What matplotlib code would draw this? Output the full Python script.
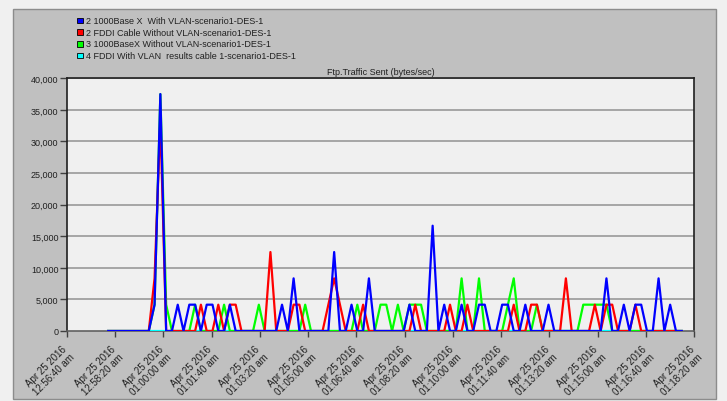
import numpy as np
import matplotlib
matplotlib.use('Agg')
import matplotlib.pyplot as plt
from matplotlib.patches import Rectangle
from matplotlib.transforms import ScaledTranslation

plt.rcParams['font.family'] = ['Liberation Sans', 'DejaVu Sans']

# samples every 12 s, first one 86 s after 12:56:40 am
first_sample = 86
sample_step = 12
n_samples = 100

blue_1000x_vlan = [
    0, 0, 0, 0, 0, 0, 0, 0, 4167, 37500,
    0, 0, 4167, 0, 4167, 4167, 0, 4167, 4167, 0,
    0, 4167, 0, 0, 0, 0, 0, 0, 0, 0,
    4167, 0, 8333, 0, 0, 0, 0, 0, 0, 12500,
    0, 0, 4167, 0, 0, 8333, 0, 0, 0, 0,
    0, 0, 4167, 0, 0, 0, 16667, 0, 4167, 0,
    0, 4167, 0, 0, 4167, 4167, 0, 0, 4167, 4167,
    0, 0, 4167, 0, 0, 0, 4167, 0, 0, 0,
    0, 0, 0, 0, 0, 0, 8333, 0, 0, 4167,
    0, 4167, 4167, 0, 0, 8333, 0, 4167, 0, 0]

red_fddi_novlan = [
    0, 0, 0, 0, 0, 0, 0, 0, 8333, 33333,
    0, 0, 0, 0, 0, 0, 4167, 0, 0, 4167,
    0, 4167, 4167, 0, 0, 0, 0, 0, 12500, 0,
    0, 0, 4167, 4167, 0, 0, 0, 0, 4167, 8333,
    4167, 0, 0, 0, 4167, 0, 0, 0, 0, 0,
    0, 0, 0, 4167, 0, 0, 0, 0, 0, 4167,
    0, 0, 4167, 0, 0, 0, 0, 0, 0, 0,
    4167, 0, 0, 4167, 4167, 0, 0, 0, 0, 8333,
    0, 0, 0, 0, 4167, 0, 4167, 4167, 0, 0,
    0, 4167, 0, 0, 0, 0, 0, 0, 0, 0]

green_1000x_novlan = [
    0, 0, 0, 0, 0, 0, 0, 0, 4167, 37500,
    4167, 0, 0, 0, 0, 4167, 0, 0, 0, 0,
    4167, 0, 0, 0, 0, 0, 4167, 0, 0, 0,
    0, 0, 0, 0, 4167, 0, 0, 0, 0, 0,
    0, 0, 0, 4167, 0, 0, 0, 4167, 4167, 0,
    4167, 0, 4167, 4167, 4167, 0, 0, 0, 0, 0,
    0, 8333, 0, 0, 8333, 0, 0, 0, 0, 4167,
    8333, 0, 0, 0, 4167, 0, 0, 0, 0, 0,
    0, 0, 4167, 4167, 4167, 4167, 4167, 0, 0, 0,
    0, 0, 0, 0, 0, 0, 0, 0, 0, 0]

cyan_fddi_vlan = [0] * n_samples

series_labels = [
    '2 1000Base X  With VLAN-scenario1-DES-1',
    '2 FDDI Cable Without VLAN-scenario1-DES-1',
    '3 1000BaseX Without VLAN-scenario1-DES-1',
    '4 FDDI With VLAN  results cable 1-scenario1-DES-1',
]
series_colors = ['#0000ff', '#ff0000', '#00ff00', '#00ffff']

tick_seconds = list(range(0, 1301, 100))
tick_labels = [
    'Apr 25 2016\n12:56:40 am', 'Apr 25 2016\n12:58:20 am',
    'Apr 25 2016\n01:00:00 am', 'Apr 25 2016\n01:01:40 am',
    'Apr 25 2016\n01:03:20 am', 'Apr 25 2016\n01:05:00 am',
    'Apr 25 2016\n01:06:40 am', 'Apr 25 2016\n01:08:20 am',
    'Apr 25 2016\n01:10:00 am', 'Apr 25 2016\n01:11:40 am',
    'Apr 25 2016\n01:13:20 am', 'Apr 25 2016\n01:15:00 am',
    'Apr 25 2016\n01:16:40 am', 'Apr 25 2016\n01:18:20 am',
]
y_ticks = list(range(0, 40001, 5000))

t = first_sample + sample_step * np.arange(n_samples)

W, H = 727, 402
fig = plt.figure(figsize=(W / 100, H / 100), dpi=100)
fig.patch.set_facecolor('#f0f0f0')

# grey panel behind the chart
fig.patches.append(Rectangle((13 / W, 1 - 400 / H), (716 - 13) / W, (400 - 10) / H,
                             transform=fig.transFigure, facecolor='#c0c0c0',
                             edgecolor='#8c8c8c', linewidth=1, zorder=-5))

ax = fig.add_axes([66.7 / W, 1 - 332 / H, (694.3 - 66.7) / W, (332 - 79.3) / H])
ax.set_zorder(2)
ax.set_facecolor('#f0f0f0')

# draw order: cyan at the bottom, blue on top
lw = 1.6
ax.plot(t, cyan_fddi_vlan, color=series_colors[3], lw=lw, zorder=3)
ax.plot(t, green_1000x_novlan, color=series_colors[2], lw=lw, zorder=4)
ax.plot(t, red_fddi_novlan, color=series_colors[1], lw=lw, zorder=5)
ax.plot(t, blue_1000x_vlan, color=series_colors[0], lw=lw, zorder=6)

ax.set_xlim(tick_seconds[0], tick_seconds[-1])
ax.set_ylim(0, 40000)
ax.set_yticks(y_ticks)
ax.set_yticklabels(['{:,}'.format(v) for v in y_ticks])
ax.set_xticks(tick_seconds)
ax.set_xticklabels(tick_labels)

for v in y_ticks[1:]:
    ax.axhline(v, color='#a0a0a0', lw=1.3, zorder=1)

for side in ['left', 'top', 'right']:
    ax.spines[side].set_color('#202020')
    ax.spines[side].set_linewidth(1.2)
ax.spines['bottom'].set_color('#606060')
ax.spines['bottom'].set_linewidth(1.2)

ax.tick_params(axis='y', length=5, width=1, color='#404040', pad=1,
               labelsize=6.5, labelcolor='#202020')
ax.tick_params(axis='x', length=4, width=1, color='#404040', pad=5,
               labelsize=7, labelcolor='#202020')
shift = ScaledTranslation(-5 / 100, 0, fig.dpi_scale_trans)
for lab in ax.get_xticklabels():
    lab.set_rotation(45)
    lab.set_ha('right')
    lab.set_va('top')
    lab.set_rotation_mode('anchor')
    lab.set_multialignment('right')
    lab.set_transform(lab.get_transform() + shift)

ax.set_title('Ftp.Traffic Sent (bytes/sec)', fontsize=6.5, color='#202020', pad=3)

# legend in the top left corner of the panel
for i, (lab, col) in enumerate(zip(series_labels, series_colors)):
    yy = 1 - (21.5 + 11.6 * i) / H
    fig.patches.append(Rectangle((77 / W, yy - 2.8 / H), 5.5 / W, 5.5 / H,
                                 transform=fig.transFigure, facecolor=col,
                                 edgecolor='#000000', linewidth=0.6, zorder=2))
    fig.text(86 / W, yy, lab, fontsize=6.5, va='center', ha='left', color='#202020')

fig.savefig('out.png', dpi=100, facecolor=fig.get_facecolor())
